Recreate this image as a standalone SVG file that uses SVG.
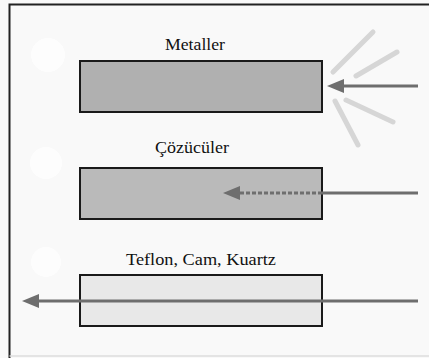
<svg xmlns="http://www.w3.org/2000/svg" width="429" height="358" viewBox="0 0 429 358">
<style>
.box{stroke:#1a1a1a;stroke-width:2}
.lbl{font-family:"Liberation Serif","Times New Roman",serif;font-size:17px;fill:#111;text-anchor:middle}
.beam{stroke:#6e6e6e;stroke-width:3;fill:none}
.ray{stroke:#d6d6d6;stroke-width:5;stroke-linecap:round;fill:none}
.head{fill:#6e6e6e}
</style>
<rect x="0" y="0" width="429" height="358" fill="#f9f9f9"/>
<g id="frame" fill="none">
<path d="M9.5,358 V4.5 H429" stroke="#222" stroke-width="2"/>
<path d="M9.5,356 H429" stroke="#dcdcdc" stroke-width="1.5"/>
</g>
<g fill="#ffffff" opacity="0.8">
<circle cx="48" cy="55" r="17"/>
<circle cx="46" cy="163" r="16"/>
<circle cx="46" cy="262" r="15"/>
</g>
<g id="metaller">
<rect class="box" x="80" y="61" width="242" height="51" fill="#b0b0b0"/>
<text class="lbl" x="195" y="50" textLength="60" lengthAdjust="spacingAndGlyphs">Metaller</text>
</g>
<g id="cozuculer">
<rect class="box" x="80" y="168" width="242" height="51" fill="#bababa"/>
<text class="lbl" x="192" y="153" textLength="74" lengthAdjust="spacingAndGlyphs">Çözücüler</text>
</g>
<g id="teflon">
<rect class="box" x="80" y="275" width="242" height="51" fill="#e8e8e8"/>
<text class="lbl" x="201" y="265" textLength="150" lengthAdjust="spacingAndGlyphs">Teflon, Cam, Kuartz</text>
</g>
<g id="connectors">
<g id="rays">
<line class="ray" x1="333" y1="72" x2="373" y2="32"/>
<line class="ray" x1="356" y1="76" x2="397" y2="52"/>
<line class="ray" x1="346" y1="100" x2="393" y2="122"/>
<line class="ray" x1="335" y1="101" x2="358" y2="145"/>
</g>
<line class="beam" x1="418" y1="86" x2="342" y2="86"/>
<polygon class="head" points="327,86 344,79 344,93"/>
<line class="beam" x1="418" y1="193" x2="322" y2="193"/>
<line class="beam" x1="322" y1="193" x2="238" y2="193" stroke-dasharray="4,2"/>
<polygon class="head" points="223,193 240,186 240,200"/>
<line class="beam" x1="418" y1="301" x2="36" y2="301"/>
<polygon class="head" points="22,301 39,294 39,308"/>
</g>
</svg>
